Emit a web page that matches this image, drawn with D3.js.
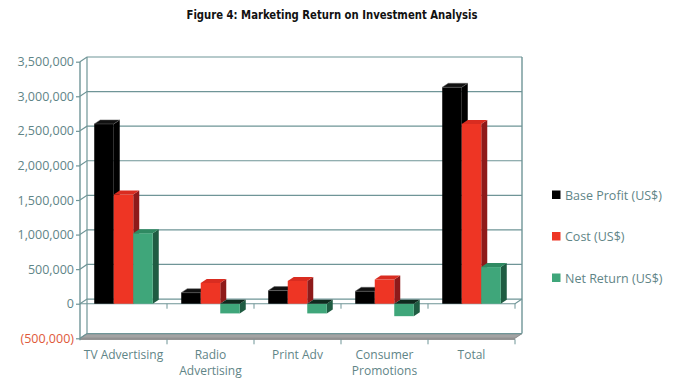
<!DOCTYPE html>
<html><head><meta charset="utf-8">
<script src="https://cdn.jsdelivr.net/npm/d3@7/dist/d3.min.js"></script>
<style>
body{margin:0;background:#fff;}
svg{display:block;}
</style></head>
<body>
<svg id="c" width="675" height="389"></svg>
<script>
const categories = ["TV Advertising", "Radio\nAdvertising", "Print Adv", "Consumer\nPromotions", "Total"];
const seriesNames = ["Base Profit (US$)", "Cost (US$)", "Net Return (US$)"];
const baseProfit = [2600000, 160000, 190000, 180000, 3130000];
const cost = [1580000, 300000, 330000, 350000, 2600000];
const netReturn = [1020000, -140000, -140000, -180000, 530000];
const yTicks = [-500000, 0, 500000, 1000000, 1500000, 2000000, 2500000, 3000000, 3500000];
const title = "Figure 4: Marketing Return on Investment Analysis";

const series = [baseProfit, cost, netReturn];
const colors = [
  {front:"#000000", top:"#111111", side:"#000000"},
  {front:"#ee3524", top:"#d92c20", side:"#8e1a1a"},
  {front:"#3fa67a", top:"#2f8a62", side:"#1f5c42"}
];
const negTop = ["#111","#4a0f0f","#0f2a1e"];

const svg = d3.select("#c");
const textCol = "#5f8587";
const gridCol = "#6f9597";
const font = "'Open Sans', sans-serif";

const wdx = 7, wdy = -4.7;
const bdx = 6, bdy = -4;

const x = d3.scaleBand().domain(categories).range([80, 515]).paddingInner(0).paddingOuter(0);
const xb = d3.scaleBand().domain([0,1,2]).range([0, x.bandwidth()]).paddingOuter(0.73).paddingInner(0);
const y = d3.scaleLinear().domain([-500000, 3500000]).range([338.3, 61.7]);

const x0 = 80, x1 = 515;
svg.append("text").attr("x", 332).attr("y", 19).attr("text-anchor","middle")
  .attr("font-family","'DejaVu Sans Condensed', 'Liberation Sans Narrow', sans-serif")
  .attr("font-weight","bold").attr("font-size",12.5).attr("fill","#111")
  .attr("textLength",291).attr("lengthAdjust","spacingAndGlyphs").text(title);

const g = svg.append("g");

const yMin = y(-500000);
g.append("path").attr("d", `M${x0},${yMin}L${x1},${yMin}L${x1+wdx},${yMin+wdy}L${x0+wdx},${yMin+wdy}Z`)
  .attr("fill","#a3a3a3").attr("stroke","#7a7a7a").attr("stroke-width",0.8);
g.append("rect").attr("x",x0).attr("y",yMin).attr("width",x1-x0).attr("height",1.6).attr("fill","#8a8a8a");

yTicks.forEach(t => {
  const yy = y(t);
  g.append("path").attr("d", `M${x0},${yy}L${x0+wdx},${yy+wdy}L${x1+wdx},${yy+wdy}`)
    .attr("fill","none").attr("stroke",gridCol).attr("stroke-width",1.2);
});
g.append("line").attr("x1",x0+wdx).attr("x2",x0+wdx).attr("y1",y(3500000)+wdy).attr("y2",yMin+wdy)
  .attr("stroke",gridCol).attr("stroke-width",1.2);
g.append("line").attr("x1",x1+wdx).attr("x2",x1+wdx).attr("y1",y(3500000)+wdy).attr("y2",yMin+wdy)
  .attr("stroke",gridCol).attr("stroke-width",1.4);

const y0 = y(0);
g.append("path").attr("d", `M${x0},${y0}L${x1},${y0}L${x1+wdx},${y0+wdy}`)
  .attr("fill","none").attr("stroke",gridCol).attr("stroke-width",1.2);
x.domain().forEach((c,i) => {
  if (i === 0) return;
  const xx = x(c);
  g.append("line").attr("x1",xx).attr("x2",xx).attr("y1",y0).attr("y2",y0+5).attr("stroke",gridCol).attr("stroke-width",1);
});
g.append("line").attr("x1",x1).attr("x2",x1).attr("y1",y0).attr("y2",y0+5).attr("stroke",gridCol).attr("stroke-width",1);

categories.forEach((c, ci) => {
  series.forEach((s, si) => {
    const v = s[ci];
    const bx = x(c) + xb(si);
    const bw = xb.bandwidth();
    const col = colors[si];
    const yt = y(Math.max(v,0)), ybot = y(Math.min(v,0));
    const bg = g.append("g");
    bg.append("path").attr("d", `M${bx+bw},${yt}L${bx+bw+bdx},${yt+bdy}L${bx+bw+bdx},${ybot+bdy}L${bx+bw},${ybot}Z`)
      .attr("fill", col.side);
    bg.append("rect").attr("x",bx).attr("y",yt).attr("width",bw).attr("height",Math.max(0.5,ybot-yt))
      .attr("fill",col.front);
    bg.append("path").attr("d", `M${bx},${yt}L${bx+bw},${yt}L${bx+bw+bdx},${yt+bdy}L${bx+bdx},${yt+bdy}Z`)
      .attr("fill", v < 0 ? negTop[si] : col.top)
      .attr("stroke", si===0 ? "#666" : "none").attr("stroke-width",0.5);
  });
});

g.append("line").attr("x1",x0).attr("x2",x0).attr("y1",y(3500000)).attr("y2",yMin+2)
  .attr("stroke",gridCol).attr("stroke-width",1.4);

const yAxis = d3.axisLeft(y).tickValues(yTicks).tickSize(4).tickPadding(2)
  .tickFormat(d => d < 0 ? "(" + d3.format(",")(-d) + ")" : d3.format(",")(d));
const ya = svg.append("g").attr("transform", `translate(${x0},0)`).call(yAxis);
ya.select(".domain").remove();
ya.selectAll(".tick line").attr("stroke", gridCol).attr("stroke-width",1.2);
ya.selectAll(".tick text").attr("font-family",font).attr("font-size",12.5)
  .attr("fill", d => d < 0 ? "#e0593a" : textCol);

const xAxis = d3.axisBottom(x).tickSize(0).tickPadding(0);
const xa = svg.append("g").attr("transform", `translate(0,${yMin})`).call(xAxis);
xa.select(".domain").remove();
xa.selectAll(".tick text").each(function(d){
  const t = d3.select(this);
  t.text(null).attr("font-family",font).attr("font-size",12).attr("fill",textCol).attr("dy",null).attr("y",0);
  d.split("\n").forEach((line, li) => {
    t.append("tspan").attr("x",0).attr("y", 21 + li*15.5).text(line);
  });
});
x.domain().forEach((c,i) => {
  if (i===0) return;
  svg.append("line").attr("x1",x(c)).attr("x2",x(c)).attr("y1",yMin+1).attr("y2",yMin+6).attr("stroke",gridCol).attr("stroke-width",1);
});
svg.append("line").attr("x1",x1).attr("x2",x1).attr("y1",yMin+1).attr("y2",yMin+6).attr("stroke",gridCol).attr("stroke-width",1);

const leg = svg.append("g");
seriesNames.forEach((n, i) => {
  const ly = 195 + i*41.5;
  leg.append("rect").attr("x",552).attr("y",ly-4.5).attr("width",8.5).attr("height",8.5).attr("fill",colors[i].front);
  leg.append("text").attr("x",565).attr("y",ly+4.5).attr("font-family",font).attr("font-size",12.5)
    .attr("fill",textCol).text(n);
});
</script>
</body></html>
